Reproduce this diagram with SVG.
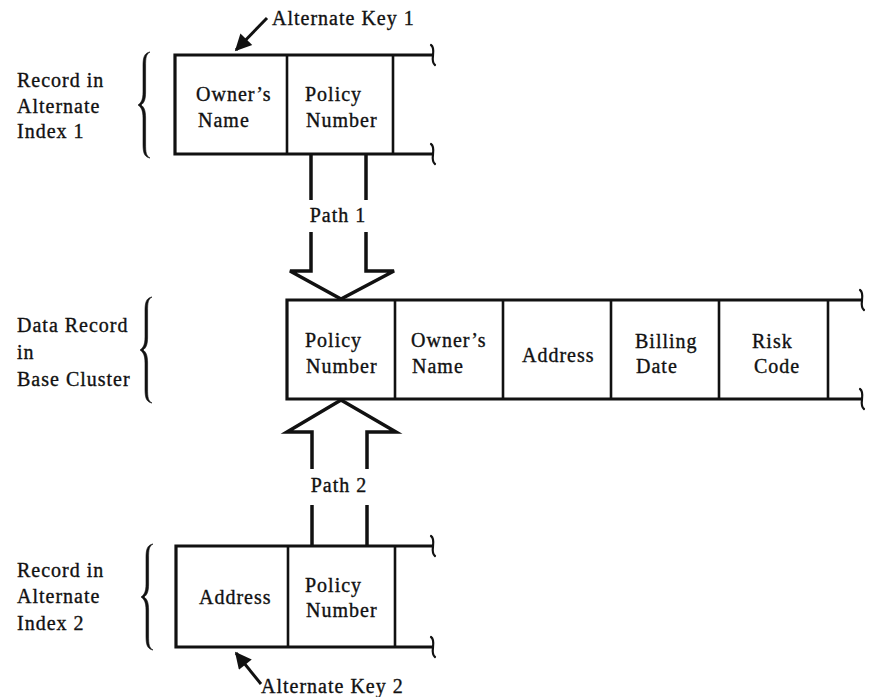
<svg xmlns="http://www.w3.org/2000/svg" width="873" height="697" viewBox="0 0 873 697">
  <style>
    text { font-family: "Liberation Serif", "Times New Roman", serif; font-size: 20px; letter-spacing: 1px; fill: #111; stroke: #111; stroke-width: 0.35px; }
    .div { stroke: #111; stroke-width: 2.6; }
    .edge { stroke: #111; stroke-width: 3.2; fill: none; }
    .sq { stroke: #111; stroke-width: 2.2; fill: none; stroke-linecap: round; }
    .brace { fill: #111; stroke: #111; stroke-width: 0.6; }
    .path { stroke: #111; stroke-width: 3.5; fill: none; stroke-linejoin: miter; }
    .key { stroke: #111; stroke-width: 3; fill: none; }
  </style>
  <defs>
    <marker id="keyhead" viewBox="0 0 10 10" refX="9" refY="5" markerWidth="7" markerHeight="5.5" orient="auto" markerUnits="strokeWidth">
      <path d="M0,0 L10,5 L0,10 z" fill="#111"/>
    </marker>
    <path id="squig" d="M-2,-10 C4,-6 -4,6 2,10"/>
    <!-- tapered left curly brace, 106 units tall, point at (0,53) -->
    <path id="brace" d="M12,0 C6,1 5,6 5,14 L5,40 C5,48 3,51 0,53 C3,55 5,58 5,66 L5,92 C5,100 6,105 12,106
                        C8,104 7.6,100 7.6,92 L7.6,66 C7.6,58 6,55 3,53 C6,51 7.6,48 7.6,40 L7.6,14 C7.6,6 8,2 12,0 Z"/>
  </defs>
  <rect width="873" height="697" fill="#fff"/>

  <!-- Alternate index 1 record -->
  <g id="alt-index-1">
    <text x="17" y="87">Record in</text>
    <text x="17" y="113">Alternate</text>
    <text x="17" y="138">Index 1</text>
    <use href="#brace" class="brace" x="138" y="52"/>
    <path class="edge" d="M432,55 L175,55 L175,154 L432,154"/>
    <line class="div" x1="287" y1="55" x2="287" y2="154"/>
    <line class="div" x1="393" y1="55" x2="393" y2="154"/>
    <use href="#squig" class="sq" x="433" y="55"/>
    <use href="#squig" class="sq" x="433" y="154"/>
    <text x="196" y="101">Owner’s</text>
    <text x="198" y="127">Name</text>
    <text x="305" y="101">Policy</text>
    <text x="306" y="127">Number</text>
  </g>

  <!-- Data record in the base cluster -->
  <g id="base-record">
    <text x="17" y="332">Data Record</text>
    <text x="17" y="359">in</text>
    <text x="17" y="386">Base Cluster</text>
    <use href="#brace" class="brace" x="140" y="297"/>
    <path class="edge" d="M861,300 L287,300 L287,399 L861,399"/>
    <line class="div" x1="395" y1="300" x2="395" y2="399"/>
    <line class="div" x1="503" y1="300" x2="503" y2="399"/>
    <line class="div" x1="611" y1="300" x2="611" y2="399"/>
    <line class="div" x1="719" y1="300" x2="719" y2="399"/>
    <line class="div" x1="828" y1="300" x2="828" y2="399"/>
    <use href="#squig" class="sq" x="862" y="300"/>
    <use href="#squig" class="sq" x="862" y="399"/>
    <text x="305" y="347">Policy</text>
    <text x="306" y="373">Number</text>
    <text x="411" y="347">Owner’s</text>
    <text x="412" y="373">Name</text>
    <text x="522" y="362">Address</text>
    <text x="635" y="348">Billing</text>
    <text x="636" y="373">Date</text>
    <text x="752" y="348">Risk</text>
    <text x="754" y="373">Code</text>
  </g>

  <!-- Alternate index 2 record -->
  <g id="alt-index-2">
    <text x="17" y="577">Record in</text>
    <text x="17" y="603">Alternate</text>
    <text x="17" y="630">Index 2</text>
    <use href="#brace" class="brace" x="141" y="544"/>
    <path class="edge" d="M432,546 L176,546 L176,647 L432,647"/>
    <line class="div" x1="288" y1="546" x2="288" y2="647"/>
    <line class="div" x1="395" y1="546" x2="395" y2="647"/>
    <use href="#squig" class="sq" x="433" y="546"/>
    <use href="#squig" class="sq" x="433" y="647"/>
    <text x="199" y="604">Address</text>
    <text x="305" y="592">Policy</text>
    <text x="306" y="617">Number</text>
  </g>

  <!-- key labels -->
  <g id="alt-key-1">
    <text x="272" y="25">Alternate Key 1</text>
  </g>
  <g id="alt-key-2">
    <text x="261" y="693">Alternate Key 2</text>
  </g>

  <!-- connectors: key pointers and access paths -->
  <g id="connectors">
    <line class="key" x1="267" y1="18" x2="236" y2="50" marker-end="url(#keyhead)"/>
    <line class="key" x1="261" y1="684" x2="236" y2="653" marker-end="url(#keyhead)"/>

    <g id="path-1">
      <line class="path" x1="311" y1="154" x2="311" y2="200"/>
      <line class="path" x1="366" y1="154" x2="366" y2="200"/>
      <polyline class="path" points="311,232 311,271 290,271 341,299 394,271 366,271 366,232"/>
      <text x="338" y="222" text-anchor="middle">Path 1</text>
    </g>

    <g id="path-2">
      <line class="path" x1="312" y1="546" x2="312" y2="505"/>
      <line class="path" x1="367" y1="546" x2="367" y2="505"/>
      <polyline class="path" points="312,469 312,432 287,432 341,400 396,432 367,432 367,469"/>
      <text x="339" y="492" text-anchor="middle">Path 2</text>
    </g>
  </g>
</svg>
